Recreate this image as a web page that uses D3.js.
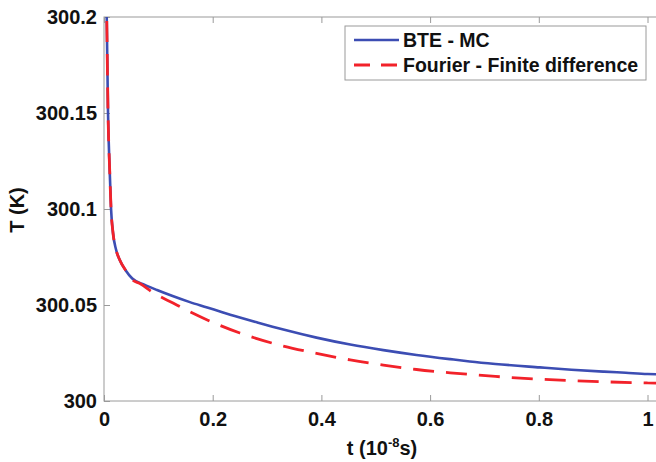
<!DOCTYPE html>
<html>
<head>
<meta charset="utf-8">
<script src="https://cdn.jsdelivr.net/npm/d3@7"></script>
<style>
  html, body { margin: 0; padding: 0; background: #fff; }
  svg text { font-family: "Liberation Sans", Arial, sans-serif; font-weight: bold; fill: #111; }
</style>
</head>
<body>
<svg id="chart" width="656" height="462"></svg>
<script>
// values
const xTicks = [0, 0.2, 0.4, 0.6, 0.8, 1];
const xTickLabels = ['0', '0.2', '0.4', '0.6', '0.8', '1'];
const yTicks = [300, 300.05, 300.1, 300.15, 300.2];
const yTickLabels = ['300', '300.05', '300.1', '300.15', '300.2'];

const bteT = [0.004, 0.005, 0.0074, 0.0105, 0.013, 0.0166, 0.022, 0.029, 0.04, 0.052, 0.075, 0.0975, 0.125, 0.158, 0.19, 0.219, 0.25, 0.281, 0.33, 0.391, 0.453, 0.514, 0.575, 0.637, 0.673, 0.72, 0.802, 0.86, 0.92, 0.96, 1.0, 1.03];
const bteTemp = [300.215, 300.2, 300.15, 300.12, 300.1, 300.0875, 300.079, 300.0734, 300.068, 300.0638, 300.0605, 300.0578, 300.0548, 300.0515, 300.0487, 300.0461, 300.0435, 300.041, 300.0372, 300.033, 300.0294, 300.0265, 300.024, 300.0218, 300.0206, 300.0193, 300.0175, 300.0163, 300.0153, 300.0147, 300.0141, 300.0138];

const fdT = [0.004, 0.005, 0.0074, 0.0105, 0.013, 0.0166, 0.022, 0.029, 0.04, 0.052, 0.066, 0.09, 0.127, 0.16, 0.19, 0.25, 0.27, 0.33, 0.391, 0.453, 0.514, 0.575, 0.637, 0.72, 0.82, 0.91, 1.0, 1.03];
const fdTemp = [300.215, 300.2, 300.15, 300.12, 300.1, 300.0875, 300.079, 300.0734, 300.068, 300.0632, 300.0612, 300.0565, 300.051, 300.0462, 300.0422, 300.0354, 300.0335, 300.0286, 300.0248, 300.0214, 300.0187, 300.0164, 300.0147, 300.0128, 300.0111, 300.0101, 300.0094, 300.0092];

const seriesNames = ['BTE - MC', 'Fourier - Finite difference'];

const svg = d3.select('#chart');
const plotLeft = 104, plotTop = 17, plotBottom = 401, plotRight = 700;

const x = d3.scaleLinear().domain([0, 1]).range([plotLeft, 647.5]);
const y = d3.scaleLinear().domain([300, 300.2]).range([plotBottom, plotTop]);

const axisColor = '#9a9a9a';

svg.append('clipPath').attr('id', 'plot-clip')
  .append('rect').attr('x', plotLeft).attr('y', plotTop)
  .attr('width', plotRight - plotLeft).attr('height', plotBottom - plotTop);

// frame
svg.append('rect')
  .attr('x', plotLeft).attr('y', plotTop)
  .attr('width', plotRight - plotLeft).attr('height', plotBottom - plotTop)
  .attr('fill', 'none').attr('stroke', axisColor).attr('stroke-width', 1);

// bottom axis, ticks inward
const xAxis = svg.append('g')
  .attr('transform', `translate(0,${plotBottom})`)
  .call(d3.axisBottom(x).tickValues(xTicks).tickSize(-6).tickFormat((d, i) => xTickLabels[i]).tickPadding(11));
xAxis.select('.domain').remove();
xAxis.selectAll('line').attr('stroke', axisColor);
xAxis.selectAll('text').style('font-size', '20px').attr('fill', '#111');

// top ticks
svg.append('g')
  .attr('transform', `translate(0,${plotTop})`)
  .call(d3.axisTop(x).tickValues(xTicks).tickSize(-6).tickFormat(''))
  .call(g => g.select('.domain').remove())
  .selectAll('line').attr('stroke', axisColor);

// left axis, ticks inward
const yAxis = svg.append('g')
  .attr('transform', `translate(${plotLeft},0)`)
  .call(d3.axisLeft(y).tickValues(yTicks).tickSize(-6).tickFormat((d, i) => yTickLabels[i]).tickPadding(7));
yAxis.select('.domain').remove();
yAxis.selectAll('line').attr('stroke', axisColor);
yAxis.selectAll('text').style('font-size', '20px').attr('fill', '#111');

// axis titles
svg.append('text')
  .attr('transform', 'translate(24,210) rotate(-90)')
  .attr('text-anchor', 'middle')
  .style('font-size', '20px')
  .text('T (K)');

const xt = svg.append('text')
  .attr('x', 382).attr('y', 455)
  .attr('text-anchor', 'middle')
  .style('font-size', '20px');
xt.append('tspan').text('t (10');
xt.append('tspan').attr('dy', -8).style('font-size', '13px').text('-8');
xt.append('tspan').attr('dy', 8).text('s)');

// curves
const line = d3.line()
  .x(d => x(d[0]))
  .y(d => y(d[1]))
  .curve(d3.curveMonotoneX);

const plot = svg.append('g').attr('clip-path', 'url(#plot-clip)');

plot.append('path')
  .attr('d', line(bteT.map((t, i) => [t, bteTemp[i]])))
  .attr('fill', 'none')
  .attr('stroke', '#3c4db3')
  .attr('stroke-width', 2.6);

plot.append('path')
  .attr('d', line(fdT.map((t, i) => [t, fdTemp[i]])))
  .attr('fill', 'none')
  .attr('stroke', '#f2222a')
  .attr('stroke-width', 2.8)
  .attr('stroke-dasharray', '21,12');

// legend
const legend = svg.append('g');
legend.append('rect')
  .attr('x', 345).attr('y', 26).attr('width', 301).attr('height', 54)
  .attr('fill', '#fff').attr('stroke', axisColor).attr('stroke-width', 1);

legend.append('line')
  .attr('x1', 354).attr('x2', 399).attr('y1', 40).attr('y2', 40)
  .attr('stroke', '#3c4db3').attr('stroke-width', 2.6);
legend.append('line')
  .attr('x1', 354).attr('x2', 399).attr('y1', 65).attr('y2', 65)
  .attr('stroke', '#f2222a').attr('stroke-width', 2.8)
  .attr('stroke-dasharray', '16,11');

legend.selectAll('text.leg')
  .data(seriesNames)
  .enter()
  .append('text')
    .attr('class', 'leg')
    .attr('x', 403)
    .attr('y', (d, i) => 47 + i * 25)
    .style('font-size', '19.5px')
    .text(d => d);
</script>
</body>
</html>
